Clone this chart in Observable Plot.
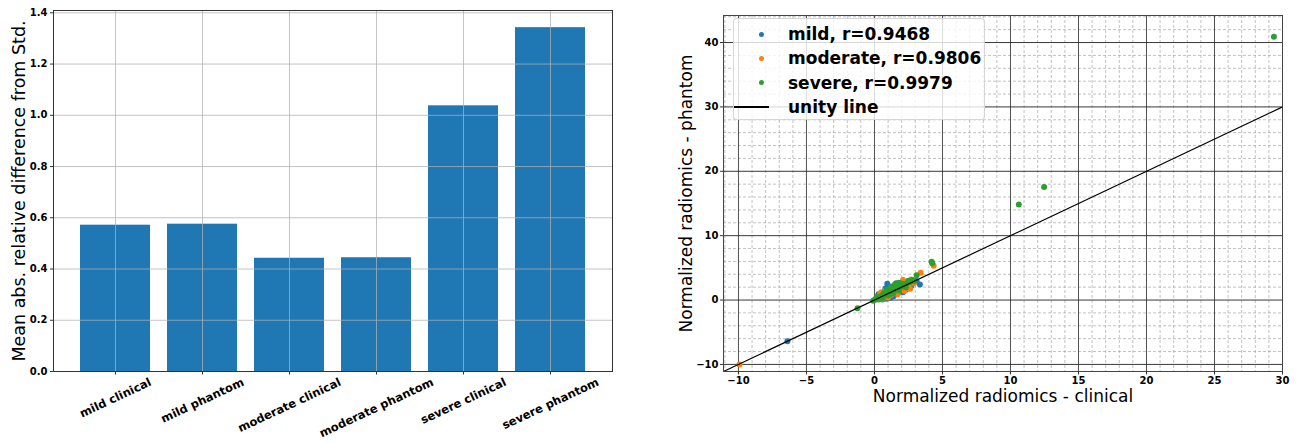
<!DOCTYPE html>
<html>
<head>
<meta charset="utf-8">
<script src="https://cdn.jsdelivr.net/npm/d3@7"></script>
<script src="https://cdn.jsdelivr.net/npm/@observablehq/plot@0.6"></script>
<style>
  html, body { margin: 0; padding: 0; background: #fff; }
  body { width: 1299px; height: 443px; position: relative; overflow: hidden; font-family: "DejaVu Sans", sans-serif; }
  #left { position: absolute; left: 0; top: 0; }
  #right { position: absolute; left: 660px; top: 0; }
  #legend { position: absolute; left: 733px; top: 18px; width: 252px; height: 102px;
    background: rgba(255,255,255,0.8); border: 1px solid rgba(204,204,204,0.8); border-radius: 4px;
    box-sizing: border-box; padding-top: 3px; }
  .row { height: 24.3px; display: flex; align-items: center; font: bold 17px "DejaVu Sans", sans-serif; color: #000; }
  .sym { width: 54px; display: flex; justify-content: center; align-items: center; }
  .dot { width: 5px; height: 5px; border-radius: 50%; }
  .ln { width: 35px; height: 1.5px; background: #000; margin-left: -20px; }
</style>
</head>
<body>
<div id="left"></div>
<div id="right"></div>
<div id="legend"></div>
<script>
// ---------- Left panel data ----------
const categories = ["mild clinical", "mild phantom", "moderate clinical", "moderate phantom", "severe clinical", "severe phantom"];
const barValues = [0.571, 0.575, 0.442, 0.444, 1.037, 1.342];
const barYTicks = [0.0, 0.2, 0.4, 0.6, 0.8, 1.0, 1.2, 1.4];
const barYLabel = "Mean abs. relative difference from Std.";

// ---------- Right panel data ----------
const mildPts = [
  [-6.4, -6.42], [3.34, 2.43], [0.94, 2.55], [3.1, 2.9],
  [0.0, 0.0], [0.2, 0.3], [0.4, 0.8], [0.5, 0.2], [0.6, 0.4], [0.8, 0.9], [0.9, 0.5],
  [1.0, 1.6], [1.1, 0.3], [1.2, 1.0], [1.3, 0.7], [1.5, 1.3], [1.6, 0.9], [1.7, 1.9],
  [1.8, 1.2], [2.0, 1.5], [2.2, 2.1], [2.4, 1.8], [2.6, 2.5], [2.9, 2.7], [3.0, 3.0],
  [1.4, 2.2], [0.7, 1.2], [1.9, 2.4], [2.7, 2.2], [0.3, 0.9], [0.6, 0.1], [1.0, 0.6],
  [1.2, 0.4], [1.4, 0.6], [1.7, 1.0], [2.1, 1.2], [2.3, 1.6], [0.8, 1.8], [1.1, 2.1],
  [2.5, 2.9], [1.6, 2.6], [0.4, 0.4], [0.9, 0.2]
];
const moderatePts = [
  [-9.93, -10.0], [4.35, 5.33], [3.4, 4.24], [2.62, 1.76], [2.1, 3.1],
  [0.5, 1.2], [0.3, 0.4], [0.7, 0.6], [0.9, 1.1], [1.2, 0.8], [1.4, 1.6], [1.6, 1.2],
  [1.8, 2.3], [2.0, 1.7], [2.3, 2.6], [2.5, 2.2], [2.8, 3.0], [1.0, 0.4], [0.1, 0.1],
  [1.5, 2.0], [2.2, 1.4], [0.4, 0.9], [0.8, 1.4], [1.1, 1.0], [1.7, 0.9], [1.9, 2.0],
  [2.4, 1.9], [2.9, 2.6], [0.6, 0.2], [1.3, 1.9], [2.7, 3.2]
];
const severePts = [
  [29.37, 40.9], [12.47, 17.55], [10.61, 14.86], [4.2, 5.95], [4.25, 5.7], [3.1, 3.85],
  [-1.25, -1.29], [-0.1, -0.1], [0.1, 0.2], [0.3, 0.1], [0.5, 0.6], [0.6, 0.3], [0.8, 0.9],
  [1.0, 1.2], [1.1, 0.8], [1.3, 1.4], [1.5, 1.7], [1.6, 2.3], [1.8, 1.5], [2.0, 2.1],
  [2.1, 2.5], [2.3, 2.0], [2.6, 2.8], [2.8, 3.1], [1.2, 2.0], [1.9, 2.6], [0.9, 1.6],
  [0.2, 0.5], [0.4, 0.3], [0.7, 1.1], [1.0, 0.7], [1.2, 1.5], [1.4, 1.1], [1.7, 2.0],
  [2.2, 2.4], [2.4, 2.6], [2.9, 2.9], [1.5, 2.4], [0.6, 0.8], [1.8, 2.7], [2.5, 3.0]
];
const seriesNames = ["mild, r=0.9468", "moderate, r=0.9806", "severe, r=0.9979"];
const seriesColors = ["#1f77b4", "#ff7f0e", "#2ca02c"];
const unityLabel = "unity line";
const xMajorTicks = [-10, -5, 0, 5, 10, 15, 20, 25, 30];
const yMajorTicks = [-10, 0, 10, 20, 30, 40];
const xDomain = [-11.1, 30];
const yDomain = [-11.1, 44.2];
const xLabel = "Normalized radiomics - clinical";
const yLabel = "Normalized radiomics - phantom";

const FONT = "DejaVu Sans";

// ---------- Left panel ----------
const LBL = 11.5;
const ANG = 25;
const cv = document.createElement("canvas").getContext("2d");
cv.font = `bold ${LBL}px "${FONT}"`;
const rot = ANG * Math.PI / 180;
const labelMarks = categories.map(c => {
  const w = cv.measureText(c).width;
  const dy = 6 + (w * Math.sin(rot) + 9 * Math.cos(rot)) / 2;
  return Plot.text([c], {x: d => d, frameAnchor: "bottom", dy, rotate: -ANG,
    textAnchor: "middle", lineAnchor: "middle", fontSize: LBL, fontWeight: "bold", fill: "#000"});
});

const barData = categories.map((c, i) => ({cat: c, v: barValues[i]}));
const left = Plot.plot({
  width: 640, height: 443,
  marginLeft: 53, marginRight: 28, marginTop: 10, marginBottom: 72,
  style: {fontFamily: FONT, background: "transparent", overflow: "visible"},
  x: {type: "band", domain: categories, paddingInner: 0.2, paddingOuter: 0.29, axis: null},
  y: {domain: [0, 1.409], axis: null},
  marks: [
    Plot.barY(barData, {x: "cat", y: "v", fill: "#1f77b4"}),
    Plot.gridX(categories, {stroke: "#b0b0b0", strokeOpacity: 0.75, strokeWidth: 1}),
    Plot.gridY(barYTicks, {stroke: "#b0b0b0", strokeOpacity: 0.75, strokeWidth: 1}),
    Plot.frame({stroke: "#333", strokeWidth: 1}),
    Plot.axisY(barYTicks, {tickSize: 3, tickPadding: 3, tickFormat: d3.format(".1f"),
      fontSize: 10, fontWeight: "bold", label: null, stroke: "#333"}),
    Plot.axisX(categories, {tickSize: 3.5, tickFormat: () => "", label: null, stroke: "#333"}),
    ...labelMarks,
    Plot.text([barYLabel], {frameAnchor: "left", dx: -34, rotate: -90, fontSize: 17.5,
      textAnchor: "middle", lineAnchor: "middle", fill: "#000"})
  ]
});
document.getElementById("left").appendChild(left);

// ---------- Right panel ----------
const xMinor = d3.range(-11, 31, 1).filter(v => v % 5 !== 0);
const yMinor = d3.range(-10, 45, 2).filter(v => v % 10 !== 0);
const unity = xDomain;
const fmt = d => d < 0 ? "\u2212" + Math.abs(d) : String(d);

const right = Plot.plot({
  width: 639, height: 443,
  marginLeft: 63, marginRight: 17, marginTop: 15, marginBottom: 72,
  style: {fontFamily: FONT, background: "transparent", overflow: "visible"},
  x: {domain: xDomain, axis: null},
  y: {domain: yDomain, axis: null},
  marks: [
    Plot.gridX(xMinor, {stroke: "#999", strokeOpacity: 0.75, strokeWidth: 0.8, strokeDasharray: "3,2"}),
    Plot.gridY(yMinor, {stroke: "#999", strokeOpacity: 0.75, strokeWidth: 0.8, strokeDasharray: "3,2"}),
    Plot.gridX(xMajorTicks, {stroke: "#333", strokeOpacity: 0.85, strokeWidth: 1}),
    Plot.gridY(yMajorTicks, {stroke: "#222", strokeOpacity: 0.9, strokeWidth: 1}),
    Plot.dot(mildPts, {x: d => d[0], y: d => d[1], r: 3, fill: seriesColors[0], stroke: null}),
    Plot.dot(moderatePts, {x: d => d[0], y: d => d[1], r: 3, fill: seriesColors[1], stroke: null}),
    Plot.dot(severePts, {x: d => d[0], y: d => d[1], r: 3, fill: seriesColors[2], stroke: null}),
    Plot.line(unity, {x: d => d, y: d => d, stroke: "#000", strokeWidth: 1.2}),
    Plot.frame({stroke: "#444", strokeWidth: 1}),
    Plot.axisX(xMajorTicks, {tickSize: 3.5, tickPadding: 2, fontSize: 10, fontWeight: "bold",
      label: null, stroke: "#333", tickFormat: fmt}),
    Plot.axisY(yMajorTicks, {tickSize: 3, tickPadding: 2, fontSize: 10, fontWeight: "bold",
      label: null, stroke: "#333", tickFormat: fmt}),
    Plot.text([xLabel], {frameAnchor: "bottom", dy: 25, fontSize: 17, textAnchor: "middle",
      lineAnchor: "middle", fill: "#000"}),
    Plot.text([yLabel], {frameAnchor: "left", dx: -37, rotate: -90, fontSize: 17,
      textAnchor: "middle", lineAnchor: "middle", fill: "#000"})
  ]
});
document.getElementById("right").appendChild(right);

// ---------- Legend ----------
const legend = document.getElementById("legend");
seriesNames.forEach((name, i) => {
  const row = document.createElement("div");
  row.className = "row";
  row.innerHTML = `<div class="sym"><div class="dot" style="background:${seriesColors[i]}"></div></div><div>${name}</div>`;
  legend.appendChild(row);
});
const lrow = document.createElement("div");
lrow.className = "row";
lrow.innerHTML = `<div class="sym"><div class="ln"></div></div><div>${unityLabel}</div>`;
legend.appendChild(lrow);
</script>
</body>
</html>
